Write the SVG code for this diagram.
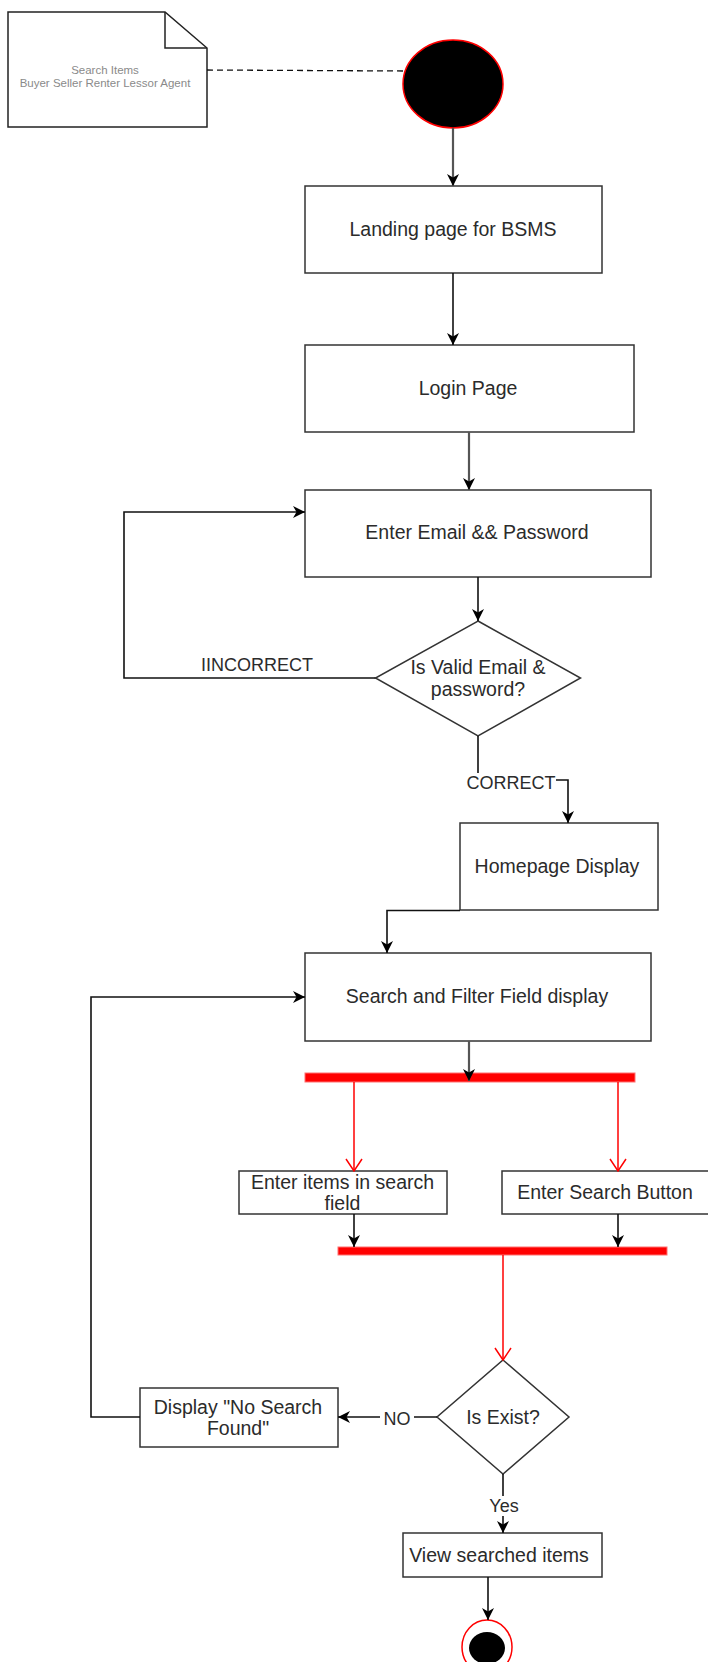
<svg xmlns="http://www.w3.org/2000/svg" width="708" height="1662" viewBox="0 0 708 1662">
  <style>
    .box { fill: #ffffff; stroke: #333333; stroke-width: 1.5; }
    .txt { font-family: "Liberation Sans", Arial, sans-serif; font-size: 19.5px; fill: #2b2b2b; text-anchor: middle; dominant-baseline: central; }
    .lbl { font-family: "Liberation Sans", Arial, sans-serif; font-size: 18px; fill: #2b2b2b; text-anchor: middle; dominant-baseline: central; }
    .note-txt { font-family: "Liberation Sans", Arial, sans-serif; font-size: 11.5px; fill: #8a8a8a; text-anchor: middle; dominant-baseline: central; }
    .edge { fill: none; stroke: #111111; stroke-width: 1.6; marker-end: url(#arrow); }
    .edge-grey { fill: none; stroke: #555555; stroke-width: 2.2; marker-end: url(#arrow); }
    .edge-red { fill: none; stroke: #ff0000; stroke-width: 1.5; marker-end: url(#open-red); }
    .bar { fill: #ff0000; stroke: #ff7070; stroke-width: 1; }
    .lbl-bg { fill: #ffffff; }
  </style>
  <defs>
    <marker id="arrow" viewBox="0 0 12 12" refX="12" refY="6" markerWidth="12" markerHeight="12" markerUnits="userSpaceOnUse" orient="auto">
      <path d="M0,0 L12,6 L0,12 L3.5,6 Z" fill="#000000"/>
    </marker>
    <marker id="open-red" viewBox="0 0 14 18" refX="13" refY="9" markerWidth="14" markerHeight="18" markerUnits="userSpaceOnUse" orient="auto">
      <path d="M1,1 L13,9 L1,17" fill="none" stroke="#ff0000" stroke-width="1.5"/>
    </marker>
  </defs>

  <rect width="708" height="1662" fill="#ffffff"/>

  <!-- note -->
  <g id="note">
    <path d="M8,12 H165 L207,48 V127 H8 Z" fill="#ffffff" stroke="#222222" stroke-width="1.5"/>
    <path d="M165,12 V48 H207" fill="none" stroke="#222222" stroke-width="1.5"/>
    <text class="note-txt" x="105" y="70">Search Items</text>
    <text class="note-txt" x="105" y="83">Buyer Seller Renter Lessor Agent</text>
  </g>

  <g id="start">
    <ellipse cx="453" cy="84" rx="50" ry="44" fill="#000000" stroke="#ff0000" stroke-width="1.5"/>
  </g>

  <g id="landing">
    <rect class="box" x="305" y="186" width="297" height="87"/>
    <text class="txt" x="453" y="229">Landing page for BSMS</text>
  </g>

  <g id="login">
    <rect class="box" x="305" y="345" width="329" height="87"/>
    <text class="txt" x="468" y="388">Login Page</text>
  </g>

  <g id="enter-credentials">
    <rect class="box" x="305" y="490" width="346" height="87"/>
    <text class="txt" x="477" y="532">Enter Email &amp;&amp; Password</text>
  </g>

  <g id="valid-check">
    <polygon class="box" points="478,621 580.5,678 478,736 375.5,678"/>
    <text class="txt" x="478" y="667">Is Valid Email &amp;</text>
    <text class="txt" x="478" y="689">password?</text>
  </g>

  <g id="homepage">
    <rect class="box" x="460" y="823" width="198" height="87"/>
    <text class="txt" x="557" y="866">Homepage Display</text>
  </g>

  <g id="search-filter">
    <rect class="box" x="305" y="953" width="346" height="88"/>
    <text class="txt" x="477" y="996">Search and Filter Field display</text>
  </g>

  <g id="fork">
    <rect class="bar" x="305" y="1073" width="330" height="9"/>
  </g>

  <g id="enter-items">
    <rect class="box" x="239" y="1171" width="208" height="43"/>
    <text class="txt" x="342.5" y="1182">Enter items in search</text>
    <text class="txt" x="342.5" y="1203">field</text>
  </g>

  <g id="search-button">
    <rect class="box" x="502" y="1171" width="208" height="43"/>
    <text class="txt" x="605" y="1192">Enter Search Button</text>
  </g>

  <g id="join">
    <rect class="bar" x="338" y="1247" width="329" height="8"/>
  </g>

  <g id="exist-check">
    <polygon class="box" points="503,1360 569,1417 503,1474 437,1417"/>
    <text class="txt" x="503" y="1417">Is Exist?</text>
  </g>

  <g id="no-result">
    <rect class="box" x="140" y="1388" width="198" height="59"/>
    <text class="txt" x="238" y="1407">Display "No Search</text>
    <text class="txt" x="238" y="1428">Found"</text>
  </g>

  <g id="view-items">
    <rect class="box" x="403" y="1533" width="199" height="44"/>
    <text class="txt" x="499" y="1555">View searched items</text>
  </g>

  <g id="end">
    <ellipse cx="487" cy="1647" rx="25" ry="27" fill="#ffffff" stroke="#ff0000" stroke-width="1.5"/>
    <ellipse cx="487" cy="1648" rx="18" ry="16" fill="#000000"/>
  </g>

  <!-- connectors, drawn last so arrowheads sit on top of the bars -->
  <g id="connectors">
    <line x1="207" y1="70" x2="404" y2="71" stroke="#111111" stroke-width="1.3" stroke-dasharray="6 4"/>
    <path class="edge-grey" d="M453,128 V186"/>
    <path class="edge" d="M453,273 V345"/>
    <path class="edge-grey" d="M469,432 V490"/>
    <path class="edge" d="M478,577 V621"/>
    <!-- incorrect credentials loop back -->
    <path class="edge" d="M375.5,678 H124 V512 H305"/>
    <!-- correct credentials -->
    <path class="edge" d="M478,736 V780 H568 V823"/>
    <path class="edge" d="M460,910.5 H387 V953"/>
    <path class="edge-grey" d="M469,1041 V1081"/>
    <!-- fork -->
    <path class="edge-red" d="M354,1082 V1171"/>
    <path class="edge-red" d="M618,1082 V1171"/>
    <!-- join -->
    <path class="edge" d="M354,1214 V1247"/>
    <path class="edge" d="M618,1214 V1247"/>
    <path class="edge-red" d="M503,1255 V1360"/>
    <!-- not found branch -->
    <path class="edge" d="M437,1417 H338"/>
    <path class="edge" d="M140,1417 H91 V997 H305"/>
    <!-- found branch -->
    <path class="edge" d="M503,1474 V1533"/>
    <path class="edge" d="M488,1577 V1620"/>

    <!-- edge labels -->
    <text class="lbl" x="257" y="665">IINCORRECT</text>
    <rect class="lbl-bg" x="466" y="773" width="90" height="20"/>
    <text class="lbl" x="511" y="783">CORRECT</text>
    <rect class="lbl-bg" x="380" y="1409" width="34" height="20"/>
    <text class="lbl" x="397" y="1419">NO</text>
    <rect class="lbl-bg" x="486" y="1496" width="36" height="20"/>
    <text class="lbl" x="504" y="1506">Yes</text>
  </g>
</svg>
